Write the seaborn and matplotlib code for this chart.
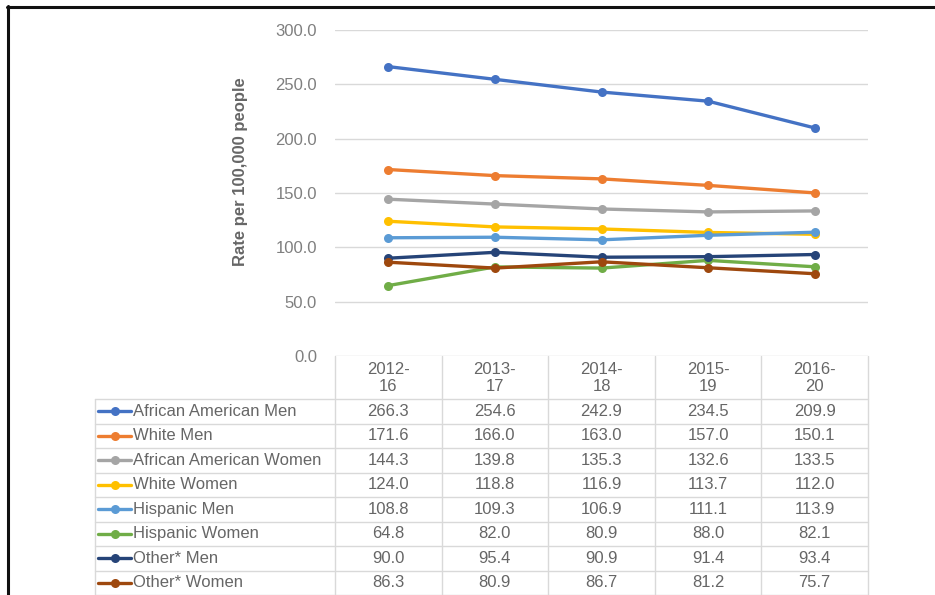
import matplotlib
matplotlib.use("Agg")
import matplotlib.pyplot as plt
from matplotlib.transforms import blended_transform_factory
from matplotlib.lines import Line2D
import seaborn as sns
import pandas as pd

# Five-year rolling periods
periods = ["2012-16", "2013-17", "2014-18", "2015-19", "2016-20"]
period_labels = ["2012-\n16", "2013-\n17", "2014-\n18", "2015-\n19", "2016-\n20"]

# Rate per 100,000 people by group
groups = [
    "African American Men",
    "White Men",
    "African American Women",
    "White Women",
    "Hispanic Men",
    "Hispanic Women",
    "Other* Men",
    "Other* Women",
]
african_american_men = [266.3, 254.6, 242.9, 234.5, 209.9]
white_men = [171.6, 166.0, 163.0, 157.0, 150.1]
african_american_women = [144.3, 139.8, 135.3, 132.6, 133.5]
white_women = [124.0, 118.8, 116.9, 113.7, 112.0]
hispanic_men = [108.8, 109.3, 106.9, 111.1, 113.9]
hispanic_women = [64.8, 82.0, 80.9, 88.0, 82.1]
other_men = [90.0, 95.4, 90.9, 91.4, 93.4]
other_women = [86.3, 80.9, 86.7, 81.2, 75.7]

series = [
    african_american_men, white_men, african_american_women, white_women,
    hispanic_men, hispanic_women, other_men, other_women,
]
colors = ["#4472C4", "#ED7D31", "#A5A5A5", "#FFC000",
          "#5B9BD5", "#70AD47", "#264478", "#9E480E"]

rows = []
for g, vals in zip(groups, series):
    for p, v in zip(periods, vals):
        rows.append({"group": g, "period": p, "rate": v})
df = pd.DataFrame(rows)

sns.set_theme(style="white")
plt.rcParams["font.family"] = ["Liberation Sans", "DejaVu Sans"]

W, H = 935, 595
fig = plt.figure(figsize=(W / 100, H / 100), dpi=100)
fig.patch.set_facecolor("white")

# pixel-space overlay for the table and frame
over = fig.add_axes([0, 0, 1, 1], zorder=0)
over.set_xlim(0, W)
over.set_ylim(H, 0)
over.axis("off")

x0, x1, y_top, y_zero = 335, 868, 30, 356
ax = fig.add_axes([x0 / W, (H - y_zero) / H, (x1 - x0) / W, (y_zero - y_top) / H], zorder=2)
ax.patch.set_alpha(0)

sns.lineplot(
    data=df, x="period", y="rate", hue="group", hue_order=groups,
    palette=colors, marker="o", markersize=6.5, markeredgewidth=0,
    linewidth=2.4, sort=False, legend=False, ax=ax,
)
ax.set_xlim(-0.5, len(periods) - 0.5)
ax.set_ylim(0, 300)
ax.set_yticks(range(0, 301, 50))
ax.set_yticklabels([f"{v:.1f}" for v in range(0, 301, 50)])
ax.set_xticks([])
ax.set_xlabel("")
ax.set_ylabel("")
ax.tick_params(axis="y", length=0, pad=13, labelsize=12, labelcolor="#7f7f7f")
ax.grid(axis="y", color="#d9d9d9", linewidth=1)
for s in ax.spines.values():
    s.set_visible(False)

# axis title
over.text(241, 172, "Rate per 100,000 people", rotation=90, ha="center", va="center",
          fontsize=12, fontweight="bold", color="#666666")

# data table below the plot
grid_c = "#d9d9d9"
txt_c = "#666666"
bt = blended_transform_factory(ax.transData, over.transData)
header_bottom = 399
row_h = 24.5
legend_left = 95

# vertical column separators
for i in range(len(periods) + 1):
    over.add_line(Line2D([i - 0.5, i - 0.5], [y_zero, H], transform=bt,
                         color=grid_c, linewidth=1, clip_on=False))
over.add_line(Line2D([legend_left, legend_left], [header_bottom, H],
                     color=grid_c, linewidth=1))

# horizontal row separators
for r in range(len(groups) + 1):
    yy = header_bottom + r * row_h
    over.add_line(Line2D([legend_left, x1], [yy, yy], color=grid_c, linewidth=1))

# header labels
for i, lab in enumerate(period_labels):
    over.text(i, 378, lab, transform=bt, ha="center", va="center",
              fontsize=12, color=txt_c, linespacing=1.15)

# legend keys, names and values
for r, (g, vals, c) in enumerate(zip(groups, series, colors)):
    yc = header_bottom + r * row_h + row_h / 2
    over.add_line(Line2D([98, 131], [yc, yc], color=c, linewidth=2.4))
    over.plot([114.5], [yc], marker="o", markersize=6.5, color=c, markeredgewidth=0)
    over.text(133, yc, g, ha="left", va="center", fontsize=12, color=txt_c)
    for i, v in enumerate(vals):
        over.text(i, yc, f"{v:.1f}", transform=bt, ha="center", va="center",
                  fontsize=12, color=txt_c)

# outer frame
over.add_line(Line2D([7, W], [6.5, 6.5], color="#111111", linewidth=2.2))
over.add_line(Line2D([7.5, 7.5], [6, H], color="#111111", linewidth=2.2))
over.set_xlim(0, W)
over.set_ylim(H, 0)

fig.savefig("out.png", dpi=100, facecolor="white")
